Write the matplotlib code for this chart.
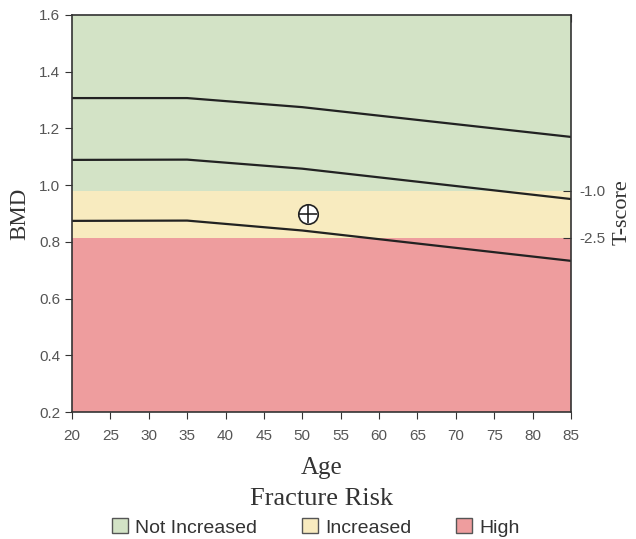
import matplotlib.pyplot as plt
from matplotlib.patches import Patch

# reference curves (BMD vs age)
ages = [20, 35, 50, 85]
upper_curve = [1.307, 1.307, 1.275, 1.170]
mid_curve = [1.089, 1.090, 1.058, 0.951]
low_curve = [0.874, 0.875, 0.840, 0.733]

# risk zone limits (BMD)
zone_bottom = 0.2
zone_high_top = 0.815
zone_increased_top = 0.98
zone_top = 1.6

# patient point
patient_age = 50.7
patient_bmd = 0.898

tscore_labels = ["-1.0", "-2.5"]
tscore_bmd = [0.98, 0.815]

green = "#d3e3c6"
yellow = "#f8ebbf"
red = "#ee9d9e"
tick_grey = "#555555"

fig = plt.figure(figsize=(6.36, 5.39), dpi=100)
ax = fig.add_axes([0.1132, 0.2356, 0.7846, 0.7366])

ax.axhspan(zone_bottom, zone_high_top, color=red, lw=0)
ax.axhspan(zone_high_top, zone_increased_top, color=yellow, lw=0)
ax.axhspan(zone_increased_top, zone_top, color=green, lw=0)

for curve in [upper_curve, mid_curve, low_curve]:
    ax.plot(ages, curve, color="#222222", lw=1.6)

ax.plot(patient_age, patient_bmd, marker="o", ms=14, mfc="white", mec="#222222", mew=1.2)
ax.plot(patient_age, patient_bmd, marker="+", ms=13, color="#222222", mew=1.2)

ax.set_xlim(20, 85)
ax.set_ylim(0.2, 1.6)
ax.set_xticks(range(20, 86, 5))
ax.set_yticks([0.2, 0.4, 0.6, 0.8, 1.0, 1.2, 1.4, 1.6])
ax.set_yticklabels(["0.2", "0.4", "0.6", "0.8", "1.0", "1.2", "1.4", "1.6"])
ax.tick_params(axis="both", direction="out", length=5, colors="#333333",
               labelcolor=tick_grey, labelsize=11)
ax.tick_params(axis="x", pad=7)
for lab in ax.get_xticklabels() + ax.get_yticklabels():
    lab.set_fontfamily("Liberation Sans")

for s in ax.spines.values():
    s.set_color("#333333")
    s.set_linewidth(1.2)

# top ticks inward
top = ax.secondary_xaxis("top")
top.set_xticks(range(20, 86, 5))
top.tick_params(direction="in", length=5, labeltop=False, colors="#333333")

# right T-score axis
right = ax.twinx()
right.set_ylim(ax.get_ylim())
right.set_yticks(tscore_bmd)
right.set_yticklabels(tscore_labels, fontfamily="Liberation Sans")
right.tick_params(direction="in", length=6, pad=6, colors="#333333",
                  labelcolor=tick_grey, labelsize=11)
for s in right.spines.values():
    s.set_visible(False)
right.set_ylabel("T-score", family="Liberation Serif", fontsize=16, color="#333333")
right.yaxis.set_label_coords(1.083, 0.504)

ax.set_ylabel("BMD", family="Liberation Serif", fontsize=16.5, color="#333333", labelpad=6)
ax.set_xlabel("Age", family="Liberation Serif", fontsize=18, color="#333333", labelpad=10)
fig.text(0.506, 0.063, "Fracture Risk", family="Liberation Serif", fontsize=19,
         color="#333333", ha="center")

handles = [Patch(facecolor=green, edgecolor="#555555", label="Not Increased"),
           Patch(facecolor=yellow, edgecolor="#555555", label="Increased"),
           Patch(facecolor=red, edgecolor="#555555", label="High")]
leg = fig.legend(handles=handles, ncol=3, loc="lower center", bbox_to_anchor=(0.497, -0.028),
                 frameon=False, handlelength=0.8, handleheight=0.8,
                 handletextpad=0.4, columnspacing=2.3,
                 prop={"family": "Liberation Sans", "size": 14})
for t in leg.get_texts():
    t.set_color("#333333")

fig.savefig("out.png", dpi=100)
